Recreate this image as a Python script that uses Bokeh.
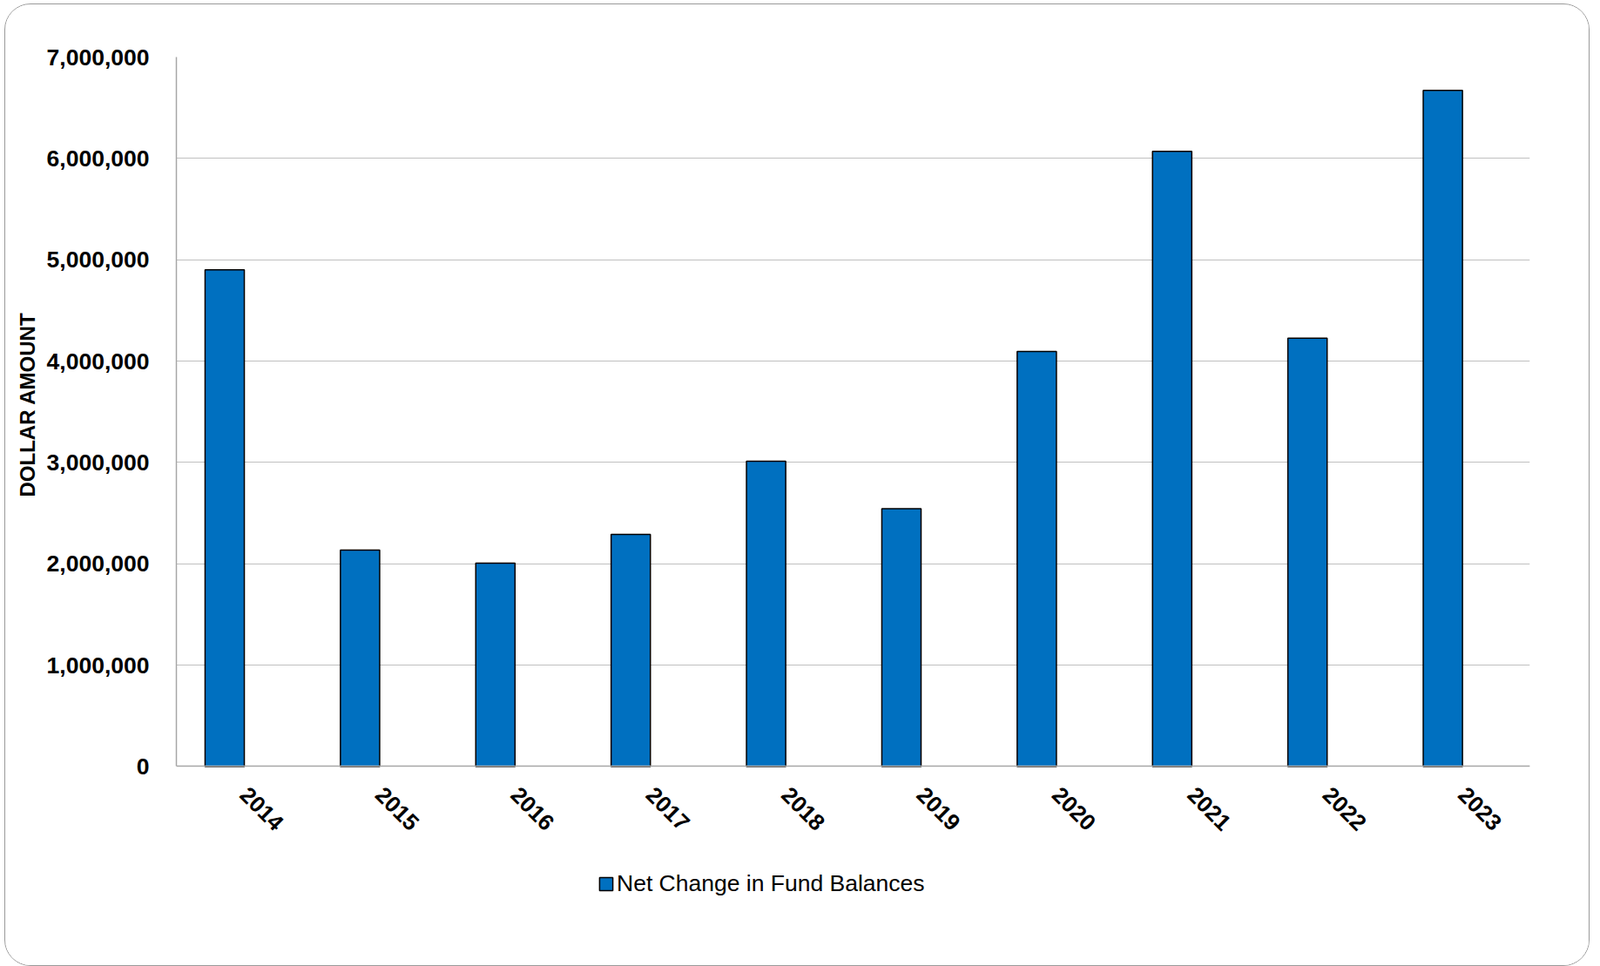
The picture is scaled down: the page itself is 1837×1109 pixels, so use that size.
import math
from bokeh.plotting import figure
from bokeh.models import (ColumnDataSource, Range1d, FactorRange, NumeralTickFormatter,
                          FixedTicker, Legend, LegendItem, Title)
from bokeh.transform import dodge
from bokeh.embed import file_html
from bokeh.resources import INLINE

# ---- data ----
years = ["2014", "2015", "2016", "2017", "2018", "2019", "2020", "2021", "2022", "2023"]
net_change = [4900000, 2135000, 2006000, 2290000, 3013000, 2543000, 4095000, 6070000, 4227000, 6672000]
series_name = "Net Change in Fund Balances"
y_title = "DOLLAR AMOUNT"
y_max = 7000000
y_step = 1000000
y_ticks = list(range(0, y_max + 1, y_step))

FONT = "Liberation Sans"

source = ColumnDataSource(data=dict(year=years, value=net_change))

# frame extends below zero to leave room for the legend inside the frame
p = figure(
    x_range=FactorRange(*years, range_padding=0),
    y_range=Range1d(-1500000, y_max),
    width=1820, height=1105,
    output_backend="svg", toolbar_location=None,
    min_border_left=196, min_border_right=70, min_border_top=60, min_border_bottom=56,
)
p.styles = {
    "margin-left": "5px", "margin-top": "4px",
    "border": "1.5px solid #9a9a9a", "border-radius": "30px",
    "overflow": "hidden",
}

r = p.vbar(x=dodge("year", -0.143, range=p.x_range), top="value", width=0.29,
           source=source, fill_color="#0070C0", line_color="#000000", line_width=1.5)

p.outline_line_color = None
p.background_fill_color = "white"
p.border_fill_color = "white"

ticker = FixedTicker(ticks=y_ticks)

# grid
p.xgrid.grid_line_color = None
p.ygrid.ticker = ticker
p.ygrid.grid_line_color = "#c0c0c0"
p.ygrid.grid_line_width = 1.2

# y axis
ya = p.yaxis[0]
ya.ticker = ticker
ya.bounds = (0, y_max)
ya.formatter = NumeralTickFormatter(format="0,0")
ya.axis_line_color = "#a6a6a6"
ya.axis_line_width = 1.5
ya.major_tick_line_color = None
ya.minor_tick_line_color = None
ya.major_tick_out = 0
ya.major_tick_in = 0
ya.major_label_standoff = 31
ya.major_label_text_font = FONT
ya.major_label_text_font_style = "bold"
ya.major_label_text_font_size = "26.5px"
ya.major_label_text_color = "#000000"

# y title
p.add_layout(Title(text=y_title, align="left", offset=484, standoff=12,
                   text_font=FONT, text_font_style="bold", text_font_size="24px",
                   text_color="#000000"), "left")

# x axis drawn at y = 0
xa = p.xaxis[0]
xa.fixed_location = 0
xa.axis_line_color = "#a6a6a6"
xa.axis_line_width = 1.5
xa.major_tick_line_color = None
xa.major_tick_out = 0
xa.major_tick_in = 0
xa.major_label_orientation = -math.pi / 4
xa.major_label_standoff = 28
xa.major_label_text_font = FONT
xa.major_label_text_font_style = "bold"
xa.major_label_text_font_size = "26px"
xa.major_label_text_color = "#000000"

legend = Legend(items=[LegendItem(label=series_name, renderers=[r])],
                location=(484, 24), orientation="horizontal",
                glyph_width=19, glyph_height=19, label_height=19, label_standoff=3,
                padding=0, margin=0, spacing=0,
                border_line_color=None, background_fill_alpha=0,
                label_text_font=FONT, label_text_font_size="26.5px", label_text_color="#000000")
p.add_layout(legend, "center")

open("out.html", "w").write(file_html(p, INLINE))
